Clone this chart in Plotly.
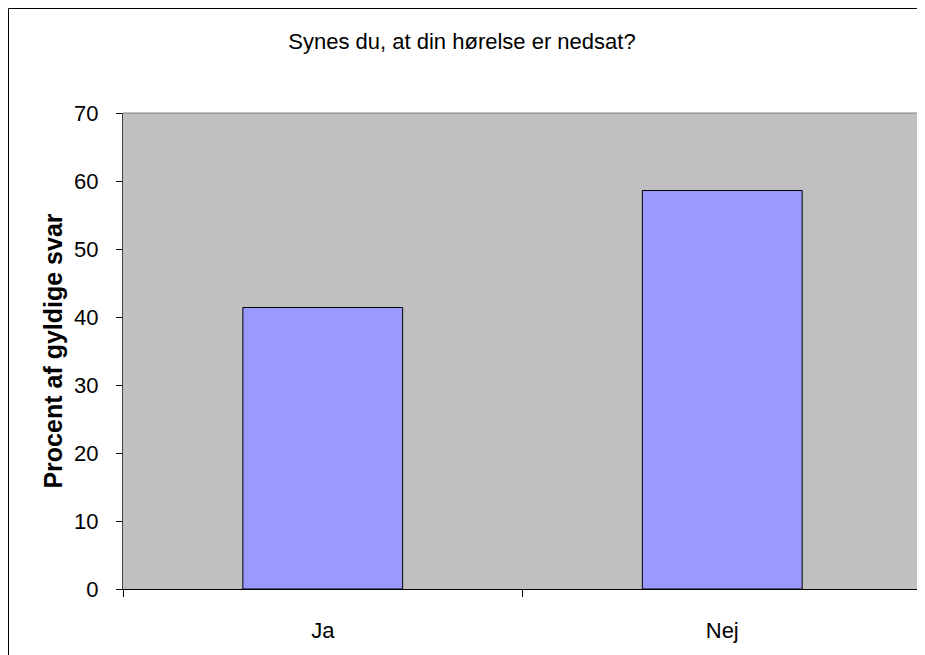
import plotly.graph_objects as go

categories = ["Ja", "Nej"]
values = [41.4, 58.6]
y_ticks = [0, 10, 20, 30, 40, 50, 60, 70]

title_text = "Synes du, at din hørelse er nedsat?"
y_title = "Procent af gyldige svar"

# page renders figure with 8px body offset
W, H = 917, 647
L, R, T, B = 115, 3, 105, 66
pw, ph = W - L - R, H - T - B

FAM = "Liberation Sans, Arial, sans-serif"
fig = go.Figure()
fig.add_trace(go.Bar(
    x=categories, y=values, width=0.4,
    marker=dict(color="#9999FF", line=dict(color="#000000", width=1)),
    hoverinfo="x+y",
))

font = dict(family=FAM, size=22, color="#000000")

fig.update_layout(
    width=W, height=H,
    margin=dict(l=L, r=R, t=T, b=B),
    paper_bgcolor="#FFFFFF",
    plot_bgcolor="#C0C0C0",
    showlegend=False,
    font=font,
    title=dict(text=title_text, x=454 / W, xanchor="center", y=1 - 33 / H, yanchor="middle",
               font=dict(family=FAM, size=22, color="#000000")),
)
fig.update_xaxes(
    type="category", tickson="boundaries", ticks="outside", ticklen=7, tickcolor="#000000",
    showline=True, linecolor="#000000", linewidth=1, showgrid=False, zeroline=False,
    tickfont=font, ticklabelstandoff=22,
)
fig.update_yaxes(
    range=[0, 70], tickvals=y_ticks, ticks="outside", ticklen=6, tickcolor="#000000",
    showline=True, linecolor="#404040", linewidth=1, showgrid=False, zeroline=False,
    tickfont=font, ticklabelstandoff=13,
    title=dict(text="<b>" + y_title + "</b>", font=dict(family=FAM, size=25, color="#000000"), standoff=4),
)
# plot area border (top/right gray)
fig.add_shape(type="line", xref="paper", yref="paper", x0=0, x1=1, y0=1, y1=1,
              line=dict(color="#808080", width=1))
fig.add_shape(type="line", xref="paper", yref="paper", x0=1, x1=1, y0=0, y1=1,
              line=dict(color="#808080", width=2))
# outer chart border
fig.add_shape(type="rect", xref="paper", yref="paper",
              x0=(0.5 - L) / pw, x1=(W + 10 - L) / pw,
              y0=-(B + 10) / ph, y1=1 + (T - 0.5) / ph,
              line=dict(color="#000000", width=1), layer="below")

fig.write_html("out.html")
